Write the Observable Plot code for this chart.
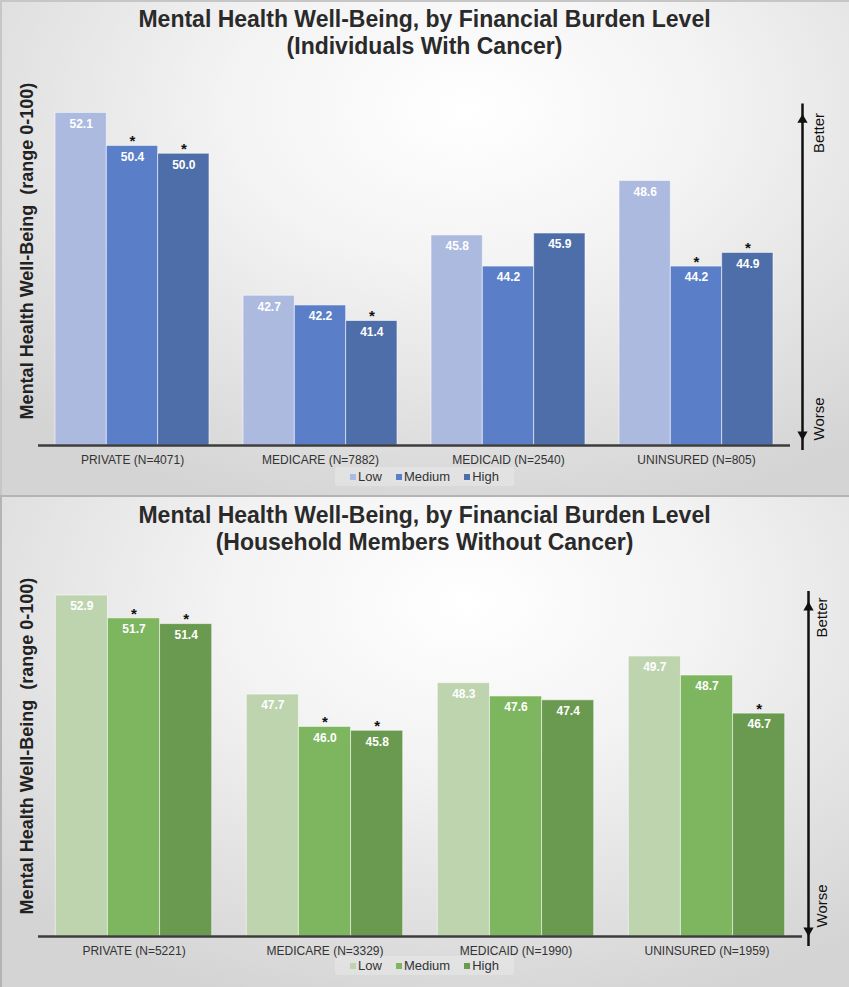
<!DOCTYPE html>
<html><head><meta charset="utf-8">
<script src="https://cdn.jsdelivr.net/npm/d3@7"></script>
<script src="https://cdn.jsdelivr.net/npm/@observablehq/plot@0.6"></script>
<style>
body{margin:0;width:849px;height:987px;overflow:hidden;background:#fff;font-family:"Liberation Sans",Arial,Helvetica,sans-serif;}
.panel{position:absolute;left:0;width:849px;overflow:hidden;
  background:radial-gradient(ellipse 75% 85% at 55% 22%, #ffffff 0%, #f3f3f3 38%, #d4d4d4 100%);
  box-shadow:inset 2px 2px 0 #c6c6c6;}
#p1{top:0;height:495px;}
#p2{top:495px;height:492px;box-shadow:inset 2px 2px 0 #b4b4b4;}
.title{position:absolute;left:0;width:849px;text-align:center;font-weight:bold;font-size:23px;color:#2a2a2a;line-height:27px;}
.title span{display:inline-block;white-space:nowrap}
.chart{position:absolute;left:0;top:0}
.legend{position:absolute;left:0;width:849px;display:flex;justify-content:center}
.legend .box{display:flex;align-items:center;padding:2px 8px;background:rgba(255,255,255,0.22);border-radius:2px;font-size:13px;color:#333}
.legend .item{display:flex;align-items:center;margin:0 7px}
.legend .sw{display:inline-block;width:6px;height:6px;margin-right:2px}
</style></head>
<body>
<div class="panel" id="p1">
  <div class="title" style="top:6px"><span>Mental Health Well-Being, by Financial Burden Level</span><br><span>(Individuals With Cancer)</span></div>
  <div class="chart" id="c1"></div>
  <div class="legend" id="l1" style="top:467px"></div>
</div>
<div class="panel" id="p2">
  <div class="title" style="top:7px"><span>Mental Health Well-Being, by Financial Burden Level</span><br><span>(Household Members Without Cancer)</span></div>
  <div class="chart" id="c2"></div>
  <div class="legend" id="l2" style="top:461px"></div>
</div>
<script>
// ---------- data ----------
const levels = ["Low", "Medium", "High"];

const catsTop = ["PRIVATE (N=4071)", "MEDICARE (N=7882)", "MEDICAID (N=2540)", "UNINSURED (N=805)"];
const lowTop = [52.1, 42.7, 45.8, 48.6];
const mediumTop = [50.4, 42.2, 44.2, 44.2];
const highTop = [50.0, 41.4, 45.9, 44.9];
const starMediumTop = [true, false, false, true];
const starHighTop = [true, true, false, true];

const catsBottom = ["PRIVATE (N=5221)", "MEDICARE (N=3329)", "MEDICAID (N=1990)", "UNINSURED (N=1959)"];
const lowBottom = [52.9, 47.7, 48.3, 49.7];
const mediumBottom = [51.7, 46.0, 47.6, 48.7];
const highBottom = [51.4, 45.8, 47.4, 46.7];
const starMediumBottom = [true, true, false, false];
const starHighBottom = [true, true, false, true];

const colorsTop = ["#adbadf", "#5a7fc8", "#4e6ea9"];
const colorsBottom = ["#bdd4ae", "#7db65f", "#6a9a4f"];

const yLabel = "Mental Health Well-Being\u00a0\u00a0(range 0-100)";
const yDomain = [35, 55];
const betterLabel = "Better";
const worseLabel = "Worse";

// ---------- build ----------
function rowsOf(cats, low, med, high, starMed, starHigh) {
  const rows = [];
  cats.forEach((c, i) => {
    [low[i], med[i], high[i]].forEach((v, l) => {
      rows.push({i, cat: c, l, level: levels[l], value: v,
        star: l === 1 ? starMed[i] : l === 2 ? starHigh[i] : false});
    });
  });
  return rows;
}

const W = 0.273; // bar width in group units

function makeChart(cfg) {
  const rows = rowsOf(cfg.cats, cfg.low, cfg.med, cfg.high, cfg.starMed, cfg.starHigh);
  const maxVal = d3.max(rows, d => d.value);
  const base = yDomain[0];
  const cx = d => d.i + (d.l - 1) * W;
  return Plot.plot({
    width: 849,
    height: cfg.height,
    marginTop: cfg.marginTop,
    marginBottom: 25,
    marginLeft: 38,
    marginRight: cfg.marginRight,
    style: {background: "transparent", fontFamily: "'Liberation Sans', Arial, sans-serif", color: "#333", overflow: "visible"},
    x: {type: "linear", domain: [-0.5, 3.5], axis: null},
    y: {domain: yDomain, axis: null},
    color: {domain: levels, range: cfg.colors},
    marks: [
      Plot.rect(rows, {
        x1: d => d.i + (d.l - 1.5) * W,
        x2: d => d.i + (d.l - 0.5) * W,
        y1: base, y2: "value", fill: "level",
        stroke: "white", strokeOpacity: 0.55, strokeWidth: 1
      }),
      Plot.ruleY([base], {stroke: "#3c3c3c", strokeWidth: 2.5}),
      Plot.text(rows, {x: cx, y: "value", text: d => d.value.toFixed(1), fill: "white",
        fontWeight: "bold", fontSize: 12, dy: 11}),
      Plot.text(rows.filter(d => d.star), {x: cx, y: "value", text: () => "*", fill: "#111",
        fontWeight: "bold", fontSize: 15, dy: -4.5}),
      Plot.axisX({ticks: [0, 1, 2, 3], tickFormat: i => cfg.cats[i], tickSize: 0, tickPadding: 10,
        fontSize: 12, fill: "#333"}),
      Plot.text([yLabel], {frameAnchor: "left", text: d => d, rotate: -90, textAnchor: "middle", dx: -11,
        fontSize: 18, fontWeight: "bold", fill: "#222"}),
      // Better / Worse arrow
      Plot.ruleX([3.5], {y1: base, y2: maxVal, dx: cfg.arrowDx, stroke: "#111", strokeWidth: 2.5,
        insetTop: cfg.arrowTop + 4, insetBottom: cfg.arrowBottom + 4}),
      Plot.dot([maxVal], {x: 3.5, y: d => d, symbol: "triangle", r: 3.8, fill: "#111", stroke: "none",
        dx: cfg.arrowDx, dy: cfg.arrowTop + 6}),
      Plot.dot([base], {x: 3.5, y: d => d, symbol: "triangle", rotate: 180, r: 3.8, fill: "#111", stroke: "none",
        dx: cfg.arrowDx, dy: -(cfg.arrowBottom + 6)}),
      Plot.text([betterLabel], {x: 3.5, y: maxVal, text: d => d, rotate: -90, textAnchor: "end",
        dx: cfg.textDx, dy: cfg.betterDy, fontSize: 15, fill: "#111"}),
      Plot.text([worseLabel], {x: 3.5, y: base, text: d => d, rotate: -90, textAnchor: "start",
        dx: cfg.textDx, dy: cfg.worseDy, fontSize: 15, fill: "#111"})
    ]
  });
}

function makeLegend(el, colors) {
  const box = document.createElement("div");
  box.className = "box";
  levels.forEach((lv, k) => {
    const item = document.createElement("span");
    item.className = "item";
    const sw = document.createElement("span");
    sw.className = "sw";
    sw.style.background = colors[k];
    item.appendChild(sw);
    item.appendChild(document.createTextNode(lv));
    box.appendChild(item);
  });
  el.appendChild(box);
}

document.getElementById("c1").appendChild(makeChart({
  cats: catsTop, low: lowTop, med: mediumTop, high: highTop,
  starMed: starMediumTop, starHigh: starHighTop, colors: colorsTop,
  height: 470, marginTop: 56, marginRight: 59,
  arrowDx: 12, arrowTop: 1, arrowBottom: 5, textDx: 29, betterDy: 0, worseDy: -5
}));
document.getElementById("c2").appendChild(makeChart({
  cats: catsBottom, low: lowBottom, med: mediumBottom, high: highBottom,
  starMed: starMediumBottom, starHigh: starHighBottom, colors: colorsBottom,
  height: 466, marginTop: 60, marginRight: 47,
  arrowDx: 6, arrowTop: 6, arrowBottom: 0, textDx: 20, betterDy: 2, worseDy: -9
}));
makeLegend(document.getElementById("l1"), colorsTop);
makeLegend(document.getElementById("l2"), colorsBottom);
</script>
</body></html>
